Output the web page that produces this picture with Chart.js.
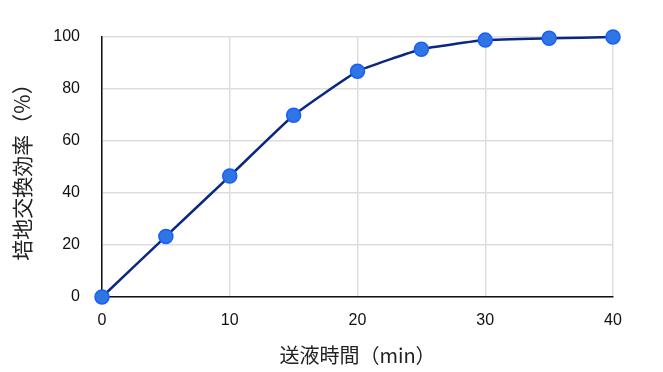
<!DOCTYPE html>
<html>
<head>
<meta charset="utf-8">
<script src="https://cdn.jsdelivr.net/npm/chart.js@4/dist/chart.umd.min.js"></script>
<style>
  html, body { margin: 0; padding: 0; background: #fff; }
  #wrap { width: 663px; height: 372px; }
</style>
</head>
<body>
<div id="wrap"><canvas id="chart" width="663" height="372"></canvas></div>
<script>
// 送液時間 (min) and 培地交換効率 (%)
var times = [0, 5, 10, 15, 20, 25, 30, 35, 40];
var efficiency = [0, 23.3, 46.5, 69.9, 86.8, 95.3, 98.8, 99.5, 100];
var xTicks = [0, 10, 20, 30, 40];
var yTicks = [0, 20, 40, 60, 80, 100];

var points = [];
for (var i = 0; i < times.length; i++) {
	points.push({ x: times[i], y: efficiency[i] });
}

var tickFont = { family: "'Liberation Sans', Arial, sans-serif", size: 16 };
var titleFont = { family: "'Noto Sans CJK JP', 'Liberation Sans', sans-serif", size: 20, lineHeight: 1.2 };

var ctx = document.getElementById('chart');
var chart = new Chart(ctx, {
	type: 'line',
	data: {
		datasets: [{
			data: points,
			borderColor: '#0a2880',
			borderWidth: 2.5,
			backgroundColor: '#2f76e3',
			pointBackgroundColor: '#2f76e3',
			pointBorderColor: '#1b5cff',
			pointBorderWidth: 1.5,
			pointRadius: 7,
			tension: 0.12,
			clip: false,
			fill: false
		}]
	},
	options: {
		responsive: false,
		animation: false,
		devicePixelRatio: 1,
		layout: { padding: { left: 0, right: 50, top: 37, bottom: 0 } },
		plugins: {
			legend: { display: false },
			tooltip: { enabled: false }
		},
		scales: {
			x: {
				type: 'linear',
				min: 0,
				max: 40,
				afterBuildTicks: function (scale) {
					scale.ticks = xTicks.map(function (v) { return { value: v }; });
				},
				afterFit: function (scale) { scale.height = 75; },
				grid: { color: '#dddddd', lineWidth: 1.5, drawTicks: false },
				border: { color: '#111', width: 1.5 },
				ticks: { font: tickFont, color: '#111', padding: 14, maxRotation: 0 },
				title: {
					display: true,
					text: '送液時間（min）',
					font: titleFont,
					color: '#222',
					padding: { top: 0, bottom: 5 }
				}
			},
			y: {
				min: 0,
				max: 100,
				afterBuildTicks: function (scale) {
					scale.ticks = yTicks.map(function (v) { return { value: v }; });
				},
				afterFit: function (scale) { scale.width = 102; },
				grid: { color: '#dddddd', lineWidth: 1.5, drawTicks: false },
				border: { color: '#111', width: 1.5 },
				ticks: { font: tickFont, color: '#111', padding: 22 },
				title: {
					display: true,
					text: '培地交換効率（%）',
					font: { family: titleFont.family, size: 21, lineHeight: 1.2 },
					color: '#222',
					padding: { top: 9, bottom: 0 }
				}
			}
		}
	}
});
</script>
</body>
</html>
